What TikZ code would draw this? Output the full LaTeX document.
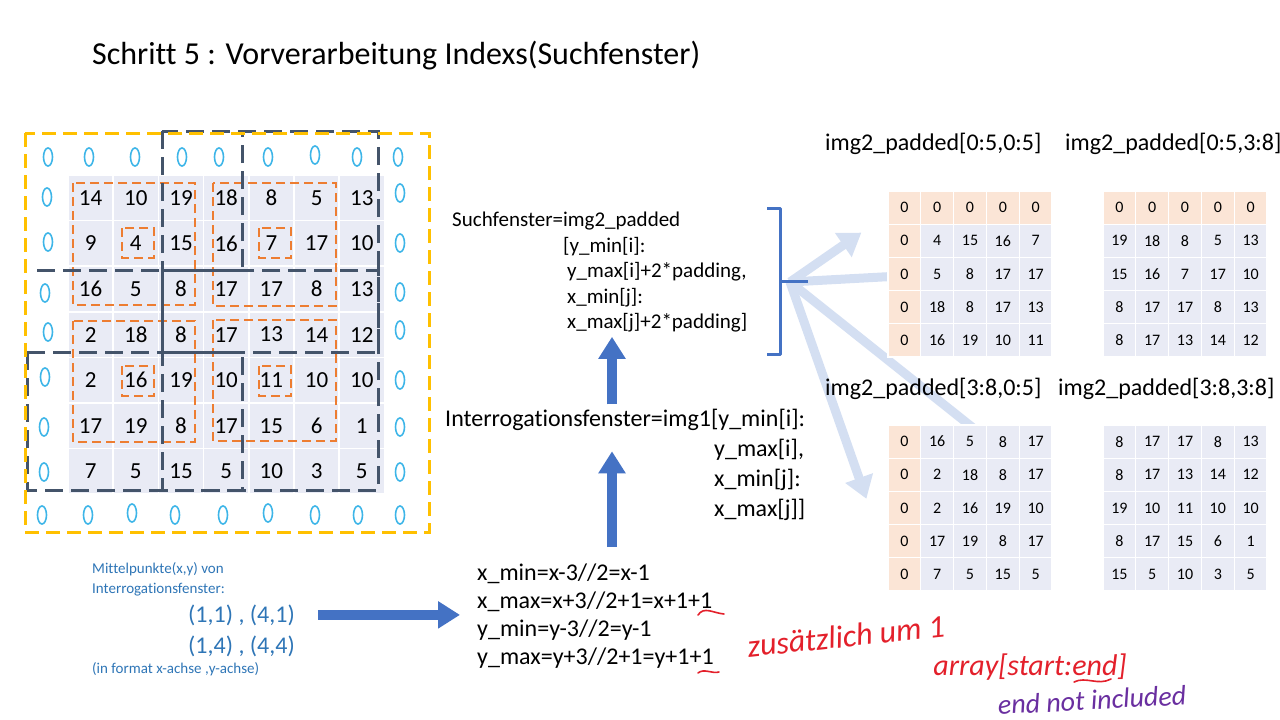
\documentclass[tikz,border=0pt]{standalone}
\usepackage{fontspec}
\setmainfont{Carlito}[Ligatures=NoCommon]
\usetikzlibrary{arrows.meta,calc,backgrounds}

\definecolor{cellgray}{HTML}{E9EBF5}
\definecolor{cellpeach}{HTML}{FBE5D6}
\definecolor{winblue}{HTML}{44546A}
\definecolor{winorange}{HTML}{ED7D31}
\definecolor{padyellow}{HTML}{FFC000}
\definecolor{arrowblue}{HTML}{4472C4}
\definecolor{lightarrow}{HTML}{D4DFF2}
\definecolor{noteblue}{HTML}{2E75B6}
\definecolor{inkcyan}{HTML}{3DB5E8}
\definecolor{inkred}{HTML}{E3202B}
\definecolor{inkpurple}{HTML}{6A2FA0}

\tikzset{
  gridcell/.style={fill=cellgray, draw=white, line width=1.5pt, minimum width=45.2pt,
    minimum height=45.6pt, inner sep=0pt, font=\fontsize{23}{27}\selectfont},
  tabcell/.style={fill=cellgray, draw=white, line width=1.2pt, minimum width=32.8pt,
    minimum height=33.2pt, inner sep=0pt, font=\fontsize{16}{19}\selectfont},
  searchwin/.style={draw=winblue, line width=3pt, dash pattern=on 18pt off 8pt},
  interwin/.style={draw=winorange, line width=2.6pt, dash pattern=on 9pt off 5pt},
  padframe/.style={draw=padyellow, line width=3pt, dash pattern=on 14pt off 7pt},
  padzero/.style={draw=inkcyan, line width=1.6pt},
  bigarrow/.style={draw=arrowblue, line width=10pt, -{Triangle[length=22pt,width=26pt]}},
  fanarrow/.style={draw=lightarrow, line width=9pt, -{Triangle[length=22pt,width=28pt]}},
  brace/.style={draw=arrowblue, line width=3pt, line join=round},
  codeline/.style={anchor=base west, inner sep=0pt},
  bluenote/.style={anchor=base west, inner sep=0pt, text=noteblue},
  inknote/.style={inner sep=0pt, font=\itshape\fontsize{30}{32}\selectfont},
  inkline/.style={draw=inkred, line width=1.6pt, line cap=round}
}

\begin{document}
\begin{tikzpicture}[x=1pt,y=-1pt]
\useasboundingbox (0,0) rectangle (1280,720);

% title
\node[codeline, font=\fontsize{32}{38}\selectfont] (title) at (92,64) {Schritt 5 : Vorverarbeitung Indexs(Suchfenster)};

% image with padding
\foreach \row [count=\r] in {{14,10,19,18,8,5,13},{9,4,15,16,7,17,10},{16,5,8,17,17,8,13},{2,18,8,17,13,14,12},{2,16,19,10,11,10,10},{17,19,8,17,15,6,1},{7,5,15,5,10,3,5}}
  \foreach \v [count=\c] in \row
    \node[gridcell] (g-\r-\c) at ({68+45.2*(\c-0.5)},{175+45.6*(\r-0.5)}) {\v};

\foreach \px/\py in {48/157,89/157,135/157,182/157,219/157,268/157,315/155,357/157,398/157,
  47/197,48/242,45/293,48/332,45/377,44/427,44/472,
  400/193,400/243,400/292,400/330,400/380,400/427,400/472,
  42/515,88/515,132/513,175/515,223/515,268/513,315/515,358/515,400/515}
  \draw[padzero] (\px,\py) ellipse [x radius=4.5, y radius=9];

% interrogation windows
\draw[interwin] (73,183) rectangle (195,305);
\draw[interwin] (213,183) rectangle (336,306);
\draw[interwin] (73,321) rectangle (195,442);
\draw[interwin] (213,320) rectangle (336,441);
\draw[interwin] (122,228) rectangle (154,258);
\draw[interwin] (259,228) rectangle (291,258);
\draw[interwin] (122,366) rectangle (154,396);
\draw[interwin] (259,366) rectangle (291,396);

% search windows
\draw[searchwin] (162,131) rectangle (378,352);
\draw[searchwin] (162,270) rectangle (378,490);
\draw[searchwin] (37,270) -- (242,270) -- (242,131);
\draw[searchwin] (27,352) -- (242,352);
\draw[searchwin] (27,352) -- (27,490) -- (242,490) -- (242,352);
\draw[padframe] (25,133) rectangle (429,532);

% centre points
\node[bluenote, font=\fontsize{15}{18}\selectfont] (mp1) at (92,573) {Mittelpunkte(x,y) von};
\node[bluenote, font=\fontsize{15}{18}\selectfont] (mp2) at (92,593) {Interrogationsfenster:};
\node[bluenote, font=\fontsize{24}{28}\selectfont] (pts1) at (188,622) {(1,1) , (4,1)};
\node[bluenote, font=\fontsize{24}{28}\selectfont] (pts2) at (188,653) {(1,4) , (4,4)};
\node[bluenote, font=\fontsize{15}{18}\selectfont] (fmt) at (92,673) {(in format x-achse ,y-achse)};

% index formulas
\node[codeline, font=\fontsize{24}{28}\selectfont] (xmin) at (477,580) {x\_min=x-3//2=x-1};
\node[codeline, font=\fontsize{24}{28}\selectfont] (xmax) at (477,608) {x\_max=x+3//2+1=x+1+1};
\node[codeline, font=\fontsize{24}{28}\selectfont] (ymin) at (477,636) {y\_min=y-3//2=y-1};
\node[codeline, font=\fontsize{24}{28}\selectfont] (ymax) at (477,664) {y\_max=y+3//2+1=y+1+1};

\node[codeline, font=\fontsize{24}{28}\selectfont] (inter1) at (445,426) {Interrogationsfenster=img1[y\_min[i]:};
\node[codeline, font=\fontsize{24}{28}\selectfont] (inter2) at (714,456) {y\_max[i],};
\node[codeline, font=\fontsize{24}{28}\selectfont] (inter3) at (714,486) {x\_min[j]:};
\node[codeline, font=\fontsize{24}{28}\selectfont] (inter4) at (714,516) {x\_max[j]]};

\node[codeline, font=\fontsize{21}{25}\selectfont] (such1) at (452,226) {Suchfenster=img2\_padded};
\node[codeline, font=\fontsize{21}{25}\selectfont] (such2) at (563,252) {[y\_min[i]:};
\node[codeline, font=\fontsize{21}{25}\selectfont] (such3) at (567,277) {y\_max[i]+2*padding,};
\node[codeline, font=\fontsize{21}{25}\selectfont] (such4) at (567,303) {x\_min[j]:};
\node[codeline, font=\fontsize{21}{25}\selectfont] (such5) at (567,328) {x\_max[j]+2*padding]};

\coordinate (mid) at (612,0);
\draw[bigarrow] ($(pts1.east)+(23,0)$) -- ($(pts1.east -| xmax.west)+(-17,0)$);
\draw[bigarrow] ($(xmin.north -| mid)+(0,-16)$) -- ($(inter1.south -| mid)+(0,21)$);
\draw[bigarrow] ($(inter1.north -| mid)+(0,-4)$) -- ($(such5.south -| mid)+(0,5)$);

% brace
\draw[brace] (767,208) -- (780,208) -- (780,354) -- (767,354);
\draw[brace] (780,281) -- (808,281);
\coordinate (bt) at (790,282);

% padded search windows
\node[codeline, font=\fontsize{24}{28}\selectfont] (lab1) at (825,150) {img2\_padded[0:5,0:5]};
\node[codeline, font=\fontsize{24}{28}\selectfont] (lab2) at (1065,150) {img2\_padded[0:5,3:8]};
\node[codeline, font=\fontsize{24}{28}\selectfont] (lab3) at (825,395) {img2\_padded[3:8,0:5]};
\node[codeline, font=\fontsize{24}{28}\selectfont] (lab4) at (1058,395) {img2\_padded[3:8,3:8]};

\foreach \row [count=\r] in {{0,0,0,0,0},{0,4,15,16,7},{0,5,8,17,17},{0,18,8,17,13},{0,16,19,10,11}}
  \foreach \v [count=\c] in \row {
    \ifnum\r=1 \def\fc{cellpeach}\else\ifnum\c=1 \def\fc{cellpeach}\else\def\fc{cellgray}\fi\fi
    \node[tabcell, fill=\fc] (ta-\r-\c) at ({888+32.8*(\c-0.5)},{191+33.2*(\r-0.5)}) {\v};
  }
\foreach \row [count=\r] in {{0,0,0,0,0},{19,18,8,5,13},{15,16,7,17,10},{8,17,17,8,13},{8,17,13,14,12}}
  \foreach \v [count=\c] in \row {
    \ifnum\r=1 \def\fc{cellpeach}\else\def\fc{cellgray}\fi
    \node[tabcell, fill=\fc] (tb-\r-\c) at ({1103+32.8*(\c-0.5)},{191+33.2*(\r-0.5)}) {\v};
  }
\foreach \row [count=\r] in {{0,16,5,8,17},{0,2,18,8,17},{0,2,16,19,10},{0,17,19,8,17},{0,7,5,15,5}}
  \foreach \v [count=\c] in \row {
    \ifnum\c=1 \def\fc{cellpeach}\else\def\fc{cellgray}\fi
    \node[tabcell, fill=\fc] (tc-\r-\c) at ({888+32.8*(\c-0.5)},{425+33.2*(\r-0.5)}) {\v};
  }
\foreach \row [count=\r] in {{8,17,17,8,13},{8,17,13,14,12},{19,10,11,10,10},{8,17,15,6,1},{15,5,10,3,5}}
  \foreach \v [count=\c] in \row
    \node[tabcell] (td-\r-\c) at ({1103+32.8*(\c-0.5)},{425+33.2*(\r-0.5)}) {\v};

\begin{scope}[on background layer]
  \draw[fanarrow] (bt) -- ([shift={(-26,9)}]ta-2-1.north west);
  \draw[fanarrow] (bt) -- (ta-3-2.center);
  \draw[fanarrow] (bt) -- ([shift={(0,10)}]tc-1-4.center);
  \draw[fanarrow] (bt) -- ([shift={(-21,8)}]tc-3-1.north west);
\end{scope}

% handwritten notes
\node[inknote, text=inkred, rotate=6, font=\itshape\fontsize{32}{34}\selectfont] (zus) at (846,636) {zusätzlich um 1};
\node[inknote, text=inkred] (arr) at (1030,667) {array[start:end]};
\node[inknote, text=inkpurple, rotate=3, font=\itshape\fontsize{28}{30}\selectfont] (eni) at (1092,700) {end not included};
\draw[inkline] (698,615) .. controls (704,606) and (713,613) .. (724,614);
\draw[inkline] (698,673) .. controls (704,668) and (712,674) .. (719,672);
\draw[inkline] (1074,682) .. controls (1086,676) and (1098,686) .. (1111,679);
\end{tikzpicture}
\end{document}
